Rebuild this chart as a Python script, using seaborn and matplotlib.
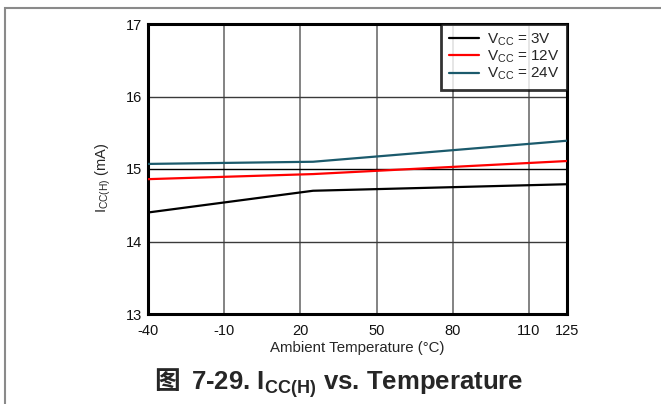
import pandas as pd
import seaborn as sns
import numpy as np
import matplotlib.pyplot as plt
from matplotlib.patches import Rectangle
from matplotlib.offsetbox import TextArea, HPacker, AnchoredOffsetbox

# values
temps = [-40, 25, 125]
i_3v = [14.40, 14.70, 14.79]
i_12v = [14.86, 14.93, 15.11]
i_24v = [15.07, 15.10, 15.39]
series_names = ["V$_{CC}$ = 3V", "V$_{CC}$ = 12V", "V$_{CC}$ = 24V"]
series_colors = ["#000000", "#ff0000", "#1b5a6c"]
x_ticks = [-40, -10, 20, 50, 80, 110, 125]
y_ticks = [13, 14, 15, 16, 17]

sns.set_style("white")
plt.rcParams['font.family'] = ['Liberation Sans', 'Noto Sans CJK SC']
plt.rcParams['mathtext.fontset'] = 'custom'
plt.rcParams['mathtext.rm'] = 'Liberation Sans'
plt.rcParams['mathtext.it'] = 'Liberation Sans:italic'
plt.rcParams['mathtext.bf'] = 'Liberation Sans:bold'
plt.rcParams['mathtext.default'] = 'regular'
plt.rcParams['axes.unicode_minus'] = False

df = pd.DataFrame({
    'temp': temps * 3,
    'icc': i_3v + i_12v + i_24v,
    'vcc': [series_names[0]] * 3 + [series_names[1]] * 3 + [series_names[2]] * 3,
})

fig = plt.figure(figsize=(6.61, 4.04), dpi=100)
ax = fig.add_axes([148 / 661, 1 - 314 / 404, 419 / 661, 290 / 404])

# outer frame of the figure panel
fig.patches.append(Rectangle((5 / 661, -0.1), 1.2, 1.1 - 8 / 404,
                             transform=fig.transFigure, fill=False,
                             edgecolor='#8a8a8a', linewidth=1.5, zorder=0))

# grid
for x in x_ticks[1:-1]:
    ax.axvline(x, color='#7a7a7a', linewidth=1.3, zorder=1)
for y in [14, 16]:
    ax.axhline(y, color='#3a3a3a', linewidth=1.0, zorder=1)
ax.axhline(15, color='black', linewidth=1.0, zorder=1)

sns.lineplot(data=df, x='temp', y='icc', hue='vcc',
             palette=dict(zip(series_names, series_colors)),
             linewidth=1.6, ax=ax, zorder=3)

ax.set_xlim(-40, 125)
ax.set_ylim(13, 17)
ax.set_xticks(x_ticks)
ax.set_yticks(y_ticks)
ax.tick_params(length=0, labelsize=10.5, colors='#111111')
ax.tick_params(axis='x', pad=7)
ax.tick_params(axis='y', pad=4.5)
for s in ax.spines.values():
    s.set_color('black')
    s.set_linewidth(2.2)

ax.set_xlabel("Ambient Temperature (°C)", fontsize=10.8)
ax.xaxis.set_label_coords(0.5, (314 - 341) / 290)
ax.set_ylabel("I$_{CC(H)}$ (mA)", fontsize=10.5)
ax.yaxis.set_label_coords((113 - 148) / 419, 0.47)

leg = ax.legend(loc='upper right', fontsize=11, frameon=True, fancybox=False,
                borderaxespad=0, handlelength=2.0, labelspacing=0.05,
                borderpad=0.5, handletextpad=0.5)
leg.get_frame().set_edgecolor('black')
leg.get_frame().set_linewidth(2.0)
leg.set_title(None)

# caption: CJK char + bold latin part
cjk = TextArea("图", textprops=dict(family='Noto Sans CJK SC', weight='bold', fontsize=18.5))
rest = TextArea("7-29. I$_{CC(H)}$ vs. Temperature",
                textprops=dict(family='Liberation Sans', weight='bold', fontsize=18.5))
box = HPacker(children=[cjk, rest], align='baseline', pad=0, sep=8)
anchored = AnchoredOffsetbox(loc='center', child=box, pad=0, frameon=False,
                             bbox_to_anchor=(338.5 / 661, 1 - 384 / 404),
                             bbox_transform=fig.transFigure, borderpad=0)
fig.add_artist(anchored)

plt.savefig('out.png', dpi=100)
